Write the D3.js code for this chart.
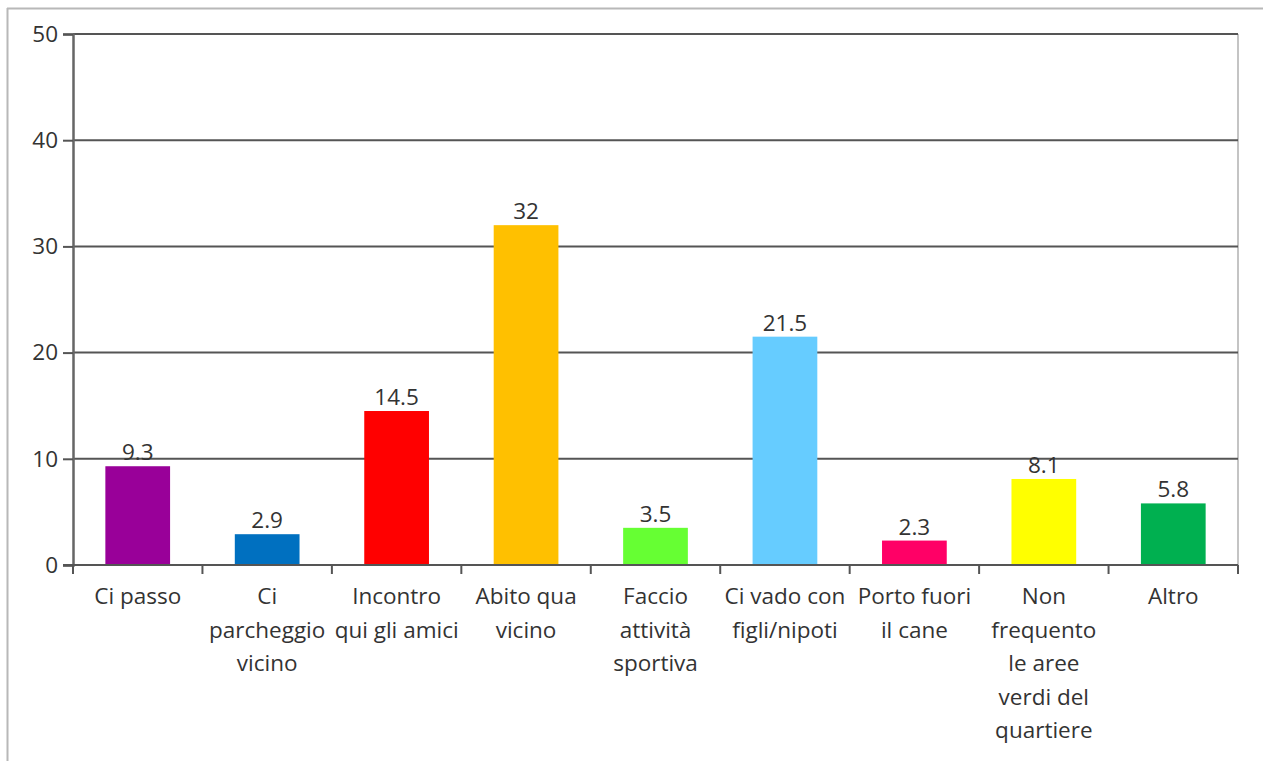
<!DOCTYPE html>
<html>
<head>
<meta charset="utf-8">
<script src="https://cdn.jsdelivr.net/npm/d3@7"></script>
<style>
  html, body { margin: 0; padding: 0; background: #fff; }
  svg { display: block; }
  text { font-family: "Open Sans", sans-serif; fill: #333; }
</style>
</head>
<body>
<svg id="chart" width="1263" height="761"></svg>
<script>
// Motivi di frequentazione delle aree verdi (%)
const categories = [
  ["Ci passo"],
  ["Ci", "parcheggio", "vicino"],
  ["Incontro", "qui gli amici"],
  ["Abito qua", "vicino"],
  ["Faccio", "attività", "sportiva"],
  ["Ci vado con", "figli/nipoti"],
  ["Porto fuori", "il cane"],
  ["Non", "frequento", "le aree", "verdi del", "quartiere"],
  ["Altro"]
];
const values = [9.3, 2.9, 14.5, 32, 3.5, 21.5, 2.3, 8.1, 5.8];
const valueLabels = ["9.3", "2.9", "14.5", "32", "3.5", "21.5", "2.3", "8.1", "5.8"];
const barColors = ["#990099", "#0070C0", "#FF0000", "#FFC000", "#66FF33", "#66CCFF", "#FF0066", "#FFFF00", "#00B050"];
const yTicks = [0, 10, 20, 30, 40, 50];

const svg = d3.select("#chart");
const plotL = 73, plotR = 1238, plotT = 34, plotB = 565;
const fontSize = "22.5px";

// outer frame (left and top edges)
svg.append("line").attr("x1", 7.5).attr("x2", 7.5).attr("y1", 8).attr("y2", 761)
  .attr("stroke", "#b8b8b8").attr("stroke-width", 2);
svg.append("line").attr("x1", 7).attr("x2", 1263).attr("y1", 8.5).attr("y2", 8.5)
  .attr("stroke", "#b8b8b8").attr("stroke-width", 2);

const idx = categories.map((d, i) => i);
const x = d3.scaleBand().domain(idx).range([plotL, plotR]).paddingInner(0.5).paddingOuter(0.25);
const xb = d3.scaleLinear().domain([0, categories.length]).range([plotL, plotR]);
const y = d3.scaleLinear().domain([0, 50]).range([plotB, plotT]);

// plot right edge
svg.append("line").attr("x1", plotR).attr("x2", plotR).attr("y1", plotT).attr("y2", plotB)
  .attr("stroke", "#c4c4c4").attr("stroke-width", 2);

// horizontal gridlines
svg.append("g").selectAll("line").data(yTicks.filter(t => t > 0)).join("line")
  .attr("x1", plotL).attr("x2", plotR)
  .attr("y1", d => y(d)).attr("y2", d => y(d))
  .attr("stroke", "#555").attr("stroke-width", 2);

// y axis
const yAxis = svg.append("g").attr("transform", `translate(${plotL},0)`)
  .call(d3.axisLeft(y).tickValues(yTicks).tickSize(10).tickPadding(5).tickFormat(d3.format("d")));
yAxis.select(".domain").attr("stroke", "#666").attr("stroke-width", 2.5);
yAxis.selectAll(".tick line").attr("stroke", "#555").attr("stroke-width", 2);
yAxis.selectAll(".tick text").style("font-size", fontSize).style("font-family", "'Open Sans', sans-serif").attr("fill", "#333");

// bars
svg.append("g").selectAll("rect").data(values).join("rect")
  .attr("x", (d, i) => x(i))
  .attr("width", x.bandwidth())
  .attr("y", d => y(d))
  .attr("height", d => y(0) - y(d))
  .attr("fill", (d, i) => barColors[i]);

// value labels
svg.append("g").selectAll("text").data(values).join("text")
  .attr("x", (d, i) => x(i) + x.bandwidth() / 2)
  .attr("y", d => y(d) - 6)
  .attr("text-anchor", "middle")
  .style("font-size", fontSize)
  .text((d, i) => valueLabels[i]);

// x axis baseline with boundary ticks
svg.append("line").attr("x1", plotL - 10).attr("x2", plotR).attr("y1", plotB).attr("y2", plotB)
  .attr("stroke", "#555").attr("stroke-width", 2);
svg.append("g").selectAll("line").data(d3.range(categories.length + 1)).join("line")
  .attr("x1", d => xb(d)).attr("x2", d => xb(d))
  .attr("y1", plotB).attr("y2", plotB + 9)
  .attr("stroke", "#555").attr("stroke-width", 2);

// category labels
const cat = svg.append("g").selectAll("text").data(categories).join("text")
  .attr("text-anchor", "middle")
  .style("font-size", fontSize)
  .attr("transform", (d, i) => `translate(${x(i) + x.bandwidth() / 2},${plotB + 39})`);
cat.selectAll("tspan").data(d => d).join("tspan")
  .attr("x", 0)
  .attr("y", (d, j) => j * 33.5)
  .text(d => d);
</script>
</body>
</html>
